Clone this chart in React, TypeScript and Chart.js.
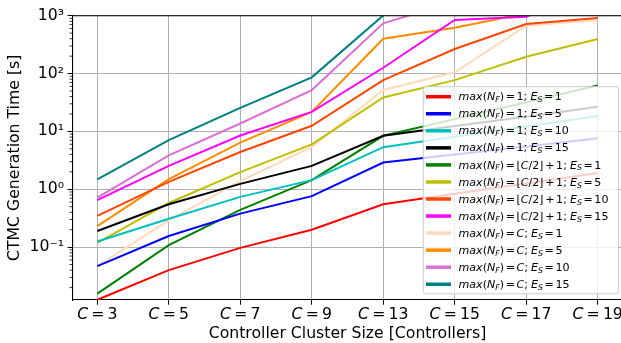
import { useEffect, useRef } from "react";
import { Chart, registerables } from "chart.js";

Chart.register(...registerables);

// ---------- data ----------
const controllerSizes = [3, 5, 7, 9, 13, 15, 17, 19];
const xTickLabels = controllerSizes.map((c) => `C = ${c}`);
const yTickValues = [0.1, 1, 10, 100, 1000];
const yTickLabels = ["10⁻¹", "10⁰", "10¹", "10²", "10³"];
const xTitle = "Controller Cluster Size [Controllers]";
const yTitle = "CTMC Generation Time [s]";

const seriesLabels = [
  "max(N_F) = 1; E_S = 1",
  "max(N_F) = 1; E_S = 5",
  "max(N_F) = 1; E_S = 10",
  "max(N_F) = 1; E_S = 15",
  "max(N_F) = ⌊C/2⌋ + 1; E_S = 1",
  "max(N_F) = ⌊C/2⌋ + 1; E_S = 5",
  "max(N_F) = ⌊C/2⌋ + 1; E_S = 10",
  "max(N_F) = ⌊C/2⌋ + 1; E_S = 15",
  "max(N_F) = C; E_S = 1",
  "max(N_F) = C; E_S = 5",
  "max(N_F) = C; E_S = 10",
  "max(N_F) = C; E_S = 15",
];
const seriesColors = [
  "#ff0000", "#0000ff", "#00bfbf", "#000000",
  "#008000", "#bfbf00", "#ff4500", "#ff00ff",
  "#ffdab9", "#ff8c00", "#da70d6", "#008080",
];

const nf1Es1 = [0.0123, 0.04, 0.097, 0.2, 0.55, 0.835, 1.26, 1.92];
const nf1Es5 = [0.047, 0.156, 0.38, 0.76, 2.9, 4.0, 5.5, 7.6];
const nf1Es10 = [0.125, 0.31, 0.74, 1.44, 5.35, 8.1, 12.2, 18.4];
const nf1Es15 = [0.19, 0.55, 1.24, 2.54, 8.4, 12.4, 18, 26.7];
const nfHalfEs1 = [0.0157, 0.108, 0.44, 1.44, 8.4, 16.3, 32, 62];
const nfHalfEs5 = [0.118, 0.58, 1.98, 5.96, 38.7, 77, 195, 396];
const nfHalfEs10 = [0.347, 1.34, 4.4, 12.5, 77, 266, 720, 913];
const nfHalfEs15 = [0.65, 2.54, 8.5, 21.8, 126, 843, 960, 3000];
const nfCEs1 = [0.047, 0.29, 1.38, 5.4, 52, 105, 672, 843];
const nfCEs5 = [0.23, 1.5, 6.4, 21.8, 400, 621, 1100, 1500];
const nfCEs10 = [0.72, 3.85, 13.7, 51.8, 740, 1750, 4000, 9000];
const nfCEs15 = [1.48, 7.07, 25.6, 86, 1010, 3500, 9000, 20000];

const seriesValues = [
  nf1Es1, nf1Es5, nf1Es10, nf1Es15,
  nfHalfEs1, nfHalfEs5, nfHalfEs10, nfHalfEs15,
  nfCEs1, nfCEs5, nfCEs10, nfCEs15,
];

// ---------- mathtext-like rendering ----------
const FONT = '"DejaVu Sans"';
type Tok = { ch: string; sub: boolean };

function tokenize(s: string): Tok[] {
  const out: Tok[] = [];
  for (let i = 0; i < s.length; i++) {
    if (s[i] === "_" && i + 1 < s.length) {
      out.push({ ch: s[i + 1], sub: true });
      i++;
    } else out.push({ ch: s[i], sub: false });
  }
  return out;
}
function tokFont(t: Tok, size: number) {
  const sz = t.sub ? size * 0.7 : size;
  const it = /[A-Za-z]/.test(t.ch);
  return `${it ? "italic " : ""}${sz}px ${FONT}`;
}
function drawMath(
  ctx: CanvasRenderingContext2D,
  s: string,
  x: number,
  baseline: number,
  size: number,
  align: "left" | "center",
  opSpace: number
) {
  const toks = tokenize(s);
  const runs: { text: string; font: string; sub: boolean; space: boolean; wide: boolean }[] = [];
  toks.forEach((t, idx) => {
    const space = t.ch === " ";
    const font = tokFont(t, size);
    const last = runs[runs.length - 1];
    const wide = space && idx > 0 && toks[idx - 1].ch === ";";
    if (last && !space && !last.space && last.font === font && last.sub === t.sub) last.text += t.ch;
    else runs.push({ text: t.ch, font, sub: t.sub, space, wide });
  });
  const widths = runs.map((r) => {
    if (r.space) return size * (r.wide ? 0.28 : opSpace);
    ctx.font = r.font;
    return ctx.measureText(r.text).width;
  });
  const total = widths.reduce((a, b) => a + b, 0);
  let cx = align === "center" ? x - total / 2 : x;
  ctx.save();
  ctx.textBaseline = "alphabetic";
  ctx.textAlign = "left";
  ctx.fillStyle = "#000";
  runs.forEach((r, i) => {
    if (!r.space) {
      ctx.font = r.font;
      ctx.fillText(r.text, cx, baseline + (r.sub ? size * 0.18 : 0));
    }
    cx += widths[i];
  });
  ctx.restore();
}

// ---------- custom drawing plugin ----------
const decorPlugin = {
  id: "decor",
  afterDraw(chart: any) {
    const ctx: CanvasRenderingContext2D = chart.ctx;
    const area = chart.chartArea;
    const xs = chart.scales.x;
    const ys = chart.scales.y;

    // top spine
    ctx.save();
    ctx.strokeStyle = "#000";
    ctx.lineWidth = 1.1;
    ctx.beginPath();
    ctx.moveTo(area.left, area.top);
    ctx.lineTo(area.right, area.top);
    ctx.stroke();

    // minor log ticks
    ctx.lineWidth = 0.8;
    for (let d = -3; d <= 3; d++) {
      for (let k = 2; k <= 9; k++) {
        const v = k * Math.pow(10, d);
        if (v < ys.min || v > ys.max) continue;
        const py = ys.getPixelForValue(v);
        ctx.beginPath();
        ctx.moveTo(area.left - 2.7, py);
        ctx.lineTo(area.left, py);
        ctx.stroke();
      }
    }
    ctx.restore();

    // x tick labels
    xs.ticks.forEach((t: any) => {
      const px = xs.getPixelForValue(t.value);
      drawMath(ctx, xTickLabels[t.value] ?? "", px, 319, 15.7, "center", 0.2);
    });

    // legend
    const lx0 = 423.3, ly0 = 86.7, lx1 = 618.5, ly1 = 293.8;
    ctx.save();
    ctx.fillStyle = "rgba(255,255,255,0.8)";
    ctx.strokeStyle = "#cccccc";
    ctx.lineWidth = 1;
    ctx.beginPath();
    (ctx as any).roundRect(lx0, ly0, lx1 - lx0, ly1 - ly0, 2.5);
    ctx.fill();
    ctx.stroke();
    ctx.restore();
    seriesLabels.forEach((lab, i) => {
      const cy = 96.7 + 17.05 * i;
      ctx.save();
      ctx.strokeStyle = seriesColors[i];
      ctx.lineWidth = 3.5;
      ctx.beginPath();
      ctx.moveTo(426, cy);
      ctx.lineTo(451, cy);
      ctx.stroke();
      ctx.restore();
      drawMath(ctx, lab, 458.5, cy + 3.6, 11.1, "left", 0.14);
    });
  },
};

export default function App() {
  const ref = useRef<HTMLCanvasElement>(null);
  useEffect(() => {
    if (!ref.current) return;
    const chart = new Chart(ref.current, {
      type: "line",
      data: {
        datasets: seriesValues.map((vals, i) => ({
          label: seriesLabels[i],
          data: vals.map((v, j) => ({ x: j, y: v })),
          borderColor: seriesColors[i],
          backgroundColor: seriesColors[i],
          borderWidth: 2,
          pointRadius: 0,
          tension: 0,
          fill: false,
        })),
      },
      options: {
        responsive: false,
        maintainAspectRatio: false,
        devicePixelRatio: 1,
        animation: false,
        layout: { padding: { left: 0, top: 15.7, right: 57.3, bottom: 0 } },
        plugins: { legend: { display: false }, tooltip: { enabled: false } },
        scales: {
          x: {
            type: "linear",
            min: -0.35,
            max: controllerSizes.length - 1 + 0.35,
            afterBuildTicks: (axis: any) => {
              axis.ticks = controllerSizes.map((_, i) => ({ value: i }));
            },
            afterFit: (scale: any) => {
              scale.height = 43;
            },
            ticks: { display: false },
            grid: {
              color: "#b0b0b0",
              lineWidth: 1,
              drawTicks: true,
              tickLength: 4.7,
              tickColor: "#000",
              tickWidth: 1,
            },
            border: { display: true, color: "#000", width: 1.1 },
            title: {
              display: true,
              text: xTitle,
              color: "#000",
              font: { family: "DejaVu Sans", size: 15.7 },
              padding: { top: 0, bottom: 0 },
            },
          },
          y: {
            type: "logarithmic",
            min: 0.0122,
            max: 1000,
            afterBuildTicks: (axis: any) => {
              axis.ticks = yTickValues.map((v) => ({ value: v }));
            },
            afterFit: (scale: any) => {
              scale.width = 72.3;
            },
            ticks: {
              color: "#000",
              padding: 3.5,
              font: { family: "DejaVu Sans", size: 15.7 },
              callback: (v: any) => {
                const idx = yTickValues.findIndex((t) => Math.abs(t - Number(v)) / t < 1e-6);
                return idx >= 0 ? yTickLabels[idx] : "";
              },
            },
            grid: {
              color: "#b0b0b0",
              lineWidth: 1,
              drawTicks: true,
              tickLength: 4.7,
              tickColor: "#000",
              tickWidth: 1,
            },
            border: { display: true, color: "#000", width: 1.1 },
            title: {
              display: true,
              text: yTitle,
              color: "#000",
              font: { family: "DejaVu Sans", size: 15.7 },
              padding: { top: 5.6, bottom: 0 },
            },
          },
        },
      },
      plugins: [decorPlugin],
    } as any);
    return () => chart.destroy();
  }, []);

  return (
    <div
      style={{
        position: "absolute",
        left: 0,
        top: 0,
        width: 621,
        height: 343,
        overflow: "hidden",
        background: "#ffffff",
      }}
    >
      <canvas ref={ref} width={680} height={343} style={{ display: "block", width: 680, height: 343 }} />
    </div>
  );
}
